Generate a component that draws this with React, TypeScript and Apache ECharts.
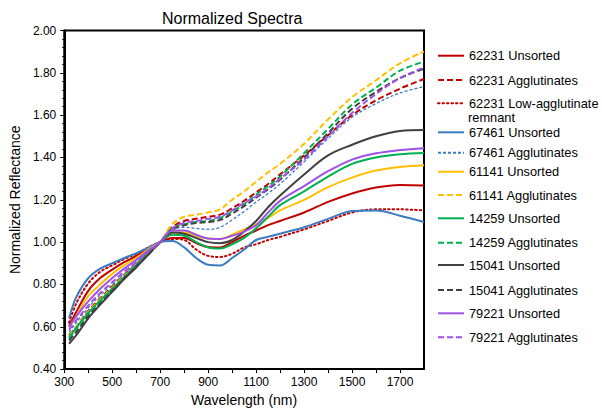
import React, { useEffect, useRef } from "react";
import * as echarts from "echarts";

const wavelengths = [320, 350, 400, 450, 500, 550, 600, 650, 700, 750, 800, 850, 900, 950, 1000, 1050, 1100, 1150, 1200, 1300, 1400, 1500, 1600, 1700, 1800];

const red62231Unsorted = [0.605, 0.67, 0.77, 0.83, 0.87, 0.905, 0.935, 0.97, 1.0, 1.02, 1.02, 0.995, 0.977, 0.975, 1.0, 1.03, 1.055, 1.08, 1.1, 1.14, 1.19, 1.23, 1.258, 1.27, 1.267];
const red62231Aggl = [0.56, 0.6, 0.675, 0.735, 0.79, 0.845, 0.895, 0.95, 1.0, 1.07, 1.1, 1.11, 1.12, 1.13, 1.16, 1.195, 1.235, 1.275, 1.32, 1.41, 1.505, 1.6, 1.67, 1.725, 1.771];
const red62231Remnant = [0.62, 0.71, 0.805, 0.86, 0.89, 0.92, 0.945, 0.975, 1.0, 1.015, 1.01, 0.965, 0.935, 0.93, 0.945, 0.975, 0.99, 1.01, 1.025, 1.06, 1.1, 1.14, 1.155, 1.155, 1.15];
const blue67461Unsorted = [0.64, 0.74, 0.83, 0.875, 0.9, 0.925, 0.947, 0.973, 1.0, 1.005, 0.975, 0.925, 0.893, 0.89, 0.925, 0.965, 1.01, 1.025, 1.04, 1.07, 1.11, 1.147, 1.15, 1.125, 1.095];
const blue67461Aggl = [0.575, 0.62, 0.69, 0.75, 0.8, 0.85, 0.9, 0.95, 1.0, 1.055, 1.07, 1.065, 1.06, 1.07, 1.105, 1.145, 1.19, 1.23, 1.275, 1.38, 1.49, 1.59, 1.655, 1.705, 1.735];
const yellow61141Unsorted = [0.595, 0.65, 0.745, 0.8, 0.85, 0.89, 0.925, 0.965, 1.0, 1.045, 1.045, 1.03, 1.017, 1.015, 1.035, 1.06, 1.085, 1.115, 1.15, 1.2, 1.26, 1.305, 1.338, 1.355, 1.363];
const yellow61141Aggl = [0.555, 0.6, 0.67, 0.73, 0.785, 0.84, 0.89, 0.945, 1.0, 1.085, 1.12, 1.13, 1.14, 1.155, 1.2, 1.24, 1.285, 1.33, 1.37, 1.465, 1.58, 1.685, 1.765, 1.845, 1.9];
const green14259Unsorted = [0.55, 0.595, 0.665, 0.725, 0.78, 0.835, 0.89, 0.945, 1.0, 1.035, 1.03, 1.0, 0.975, 0.97, 0.99, 1.02, 1.065, 1.12, 1.175, 1.24, 1.31, 1.37, 1.4, 1.415, 1.421];
const green14259Aggl = [0.545, 0.59, 0.66, 0.72, 0.775, 0.83, 0.885, 0.945, 1.0, 1.065, 1.085, 1.095, 1.1, 1.115, 1.145, 1.18, 1.225, 1.265, 1.31, 1.42, 1.535, 1.65, 1.73, 1.81, 1.853];
const black15041Unsorted = [0.52, 0.56, 0.64, 0.705, 0.765, 0.825, 0.88, 0.94, 1.0, 1.045, 1.04, 1.02, 1.0, 0.995, 1.01, 1.05, 1.1, 1.165, 1.22, 1.32, 1.41, 1.46, 1.5, 1.525, 1.53];
const black15041Aggl = [0.535, 0.575, 0.65, 0.71, 0.77, 0.83, 0.885, 0.94, 1.0, 1.06, 1.08, 1.09, 1.095, 1.105, 1.135, 1.17, 1.21, 1.25, 1.295, 1.4, 1.515, 1.63, 1.71, 1.775, 1.82];
const purple79221Unsorted = [0.6, 0.65, 0.72, 0.78, 0.83, 0.875, 0.915, 0.96, 1.0, 1.055, 1.055, 1.035, 1.017, 1.015, 1.03, 1.05, 1.08, 1.14, 1.195, 1.265, 1.335, 1.39, 1.42, 1.435, 1.444];
const purple79221Aggl = [0.585, 0.63, 0.7, 0.76, 0.81, 0.86, 0.905, 0.955, 1.0, 1.065, 1.09, 1.1, 1.11, 1.12, 1.15, 1.185, 1.215, 1.255, 1.3, 1.39, 1.5, 1.61, 1.7, 1.775, 1.825];

const seriesNames = [
  "62231 Unsorted",
  "62231 Agglutinates",
  "62231 Low-agglutinate remnant",
  "67461 Unsorted",
  "67461 Agglutinates",
  "61141 Unsorted",
  "61141 Agglutinates",
  "14259 Unsorted",
  "14259 Agglutinates",
  "15041 Unsorted",
  "15041 Agglutinates",
  "79221 Unsorted",
  "79221 Agglutinates",
];
const seriesValues = [
  red62231Unsorted, red62231Aggl, red62231Remnant,
  blue67461Unsorted, blue67461Aggl,
  yellow61141Unsorted, yellow61141Aggl,
  green14259Unsorted, green14259Aggl,
  black15041Unsorted, black15041Aggl,
  purple79221Unsorted, purple79221Aggl,
];

const RED = "#C00000";
const BLUE = "#3A7CC2";
const YELLOW = "#FFC000";
const GREEN = "#00B050";
const BLACK = "#404040";
const PURPLE = "#A052E6";

const styles: any[] = [
  { color: RED, type: "solid", width: 2 },
  { color: RED, type: [6, 3], width: 2 },
  { color: RED, type: [1.5, 3], width: 2, cap: "round" },
  { color: BLUE, type: "solid", width: 2 },
  { color: BLUE, type: [3, 2], width: 1.3 },
  { color: YELLOW, type: "solid", width: 2 },
  { color: YELLOW, type: [6, 3], width: 2 },
  { color: GREEN, type: "solid", width: 2 },
  { color: GREEN, type: [6, 3], width: 2 },
  { color: BLACK, type: "solid", width: 2 },
  { color: BLACK, type: [6, 3], width: 2 },
  { color: PURPLE, type: "solid", width: 2 },
  { color: PURPLE, type: [6, 3], width: 2 },
];

const legendCenters = [55.7, 80, 103.3, 132.3, 152.7, 171.7, 195, 218.3, 242.7, 265, 290, 313.3, 337.3];

const FONT = "'Liberation Sans', Arial, Helvetica, sans-serif";

export default function App() {
  const ref = useRef<HTMLDivElement>(null);
  useEffect(() => {
    if (!ref.current) return;
    const chart = echarts.init(ref.current, undefined, { renderer: "svg" });
    const legends = seriesNames.map((name, i) => {
      const isRemnant = name.indexOf("remnant") >= 0;
      return {
        show: true,
        orient: "vertical",
        left: 437,
        top: legendCenters[i] - 6.5,
        padding: 0,
        itemWidth: 26,
        itemHeight: 13,
        selectedMode: false,
        data: [name],
        itemStyle: { color: "rgba(0,0,0,0)", borderWidth: 0, borderColor: "rgba(0,0,0,0)" },
        formatter: (n: string) => (isRemnant ? "62231 Low-agglutinate" : n),
        textStyle: {
          fontFamily: FONT,
          fontSize: 12.8,
          color: "#000",
          lineHeight: 13,
        },
      };
    });
    chart.setOption({
      animation: false,
      backgroundColor: "#fff",
      title: {
        text: "Normalized Spectra",
        left: 162,
        top: 10,
        padding: 0,
        textStyle: { fontFamily: FONT, fontSize: 16, fontWeight: "normal", color: "#000" },
      },
      legend: legends,
      graphic: [
        {
          type: "text",
          left: 468,
          top: 110.5,
          silent: true,
          style: { text: "remnant", fontFamily: FONT, fontSize: 12.8, fill: "#000" },
        },
      ],
      grid: {
        left: 54,
        right: 178,
        top: 30.5,
        bottom: 35.5,
        show: true,
        borderColor: "#000",
        borderWidth: 2,
        backgroundColor: "transparent",
      },
      xAxis: {
        type: "value",
        min: 300,
        max: 1800,
        interval: 100,
        name: "Wavelength (nm)",
        nameLocation: "middle",
        nameGap: 21,
        nameTextStyle: { fontFamily: FONT, fontSize: 14, color: "#000" },
        axisLine: { show: true, onZero: false, lineStyle: { color: "#000", width: 2 } },
        axisTick: { show: true, inside: false, length: 4, lineStyle: { color: "#000", width: 1 } },
        splitLine: { show: false },
        axisLabel: {
          fontFamily: FONT,
          fontSize: 12,
          color: "#000",
          margin: 7,
          showMaxLabel: false,
          formatter: (v: number) => ((v - 300) % 200 === 0 && v < 1800 ? String(v) : ""),
        },
      },
      yAxis: {
        type: "value",
        min: 0.4,
        max: 2.0,
        interval: 0.2,
        name: "Normalized Reflectance",
        nameLocation: "middle",
        nameGap: 32,
        nameTextStyle: { fontFamily: FONT, fontSize: 14, color: "#000" },
        axisLine: { show: true, onZero: false, lineStyle: { color: "#000", width: 2 } },
        axisTick: { show: true, inside: false, length: 4, lineStyle: { color: "#000", width: 1 } },
        minorTick: { show: true, splitNumber: 5, length: 2, lineStyle: { color: "#000", width: 1 } },
        splitLine: { show: false },
        axisLabel: {
          fontFamily: FONT,
          fontSize: 12,
          color: "#000",
          margin: 8,
          formatter: (v: number) => v.toFixed(2),
        },
      },
      series: seriesNames.map((name, i) => ({
        name,
        type: "line",
        data: wavelengths.map((w, j) => [w, seriesValues[i][j]]),
        showSymbol: false,
        symbol: "none",
        smooth: 0.35,
        lineStyle: styles[i],
        itemStyle: { color: styles[i].color },
        emphasis: { disabled: true },
      })),
    });
    return () => chart.dispose();
  }, []);
  return (
    <div
      ref={ref}
      style={{ position: "fixed", left: 0, top: 0, width: 602, height: 412, background: "#fff" }}
    />
  );
}
